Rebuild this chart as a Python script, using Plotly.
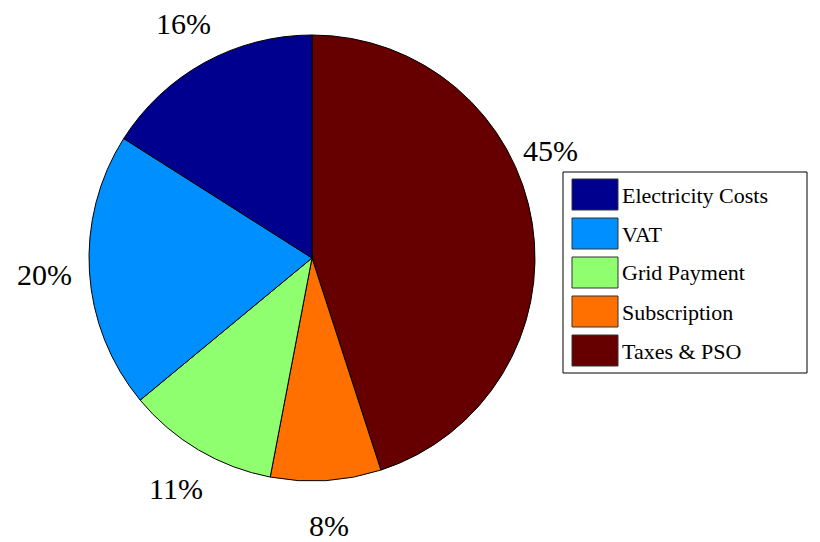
import math
import plotly.graph_objects as go

# Data
labels = ["Electricity Costs", "VAT", "Grid Payment", "Subscription", "Taxes & PSO"]
shares = [16, 20, 11, 8, 45]
colors = ["#00008F", "#008FFF", "#8FFF70", "#FF7000", "#660000"]

W, H = 820, 542
OFF = 8  # page body margin in the browser
serif = "Liberation Serif"

# pie geometry in page pixels
CX, CY, R = 312, 258, 223


def px(x):
    return (x - OFF) / W


def py(y):
    return 1 - (y - OFF) / H


fig = go.Figure()

# MATLAB pie runs counterclockwise from 12 o'clock; feed plotly the reverse order clockwise
fig.add_trace(go.Pie(
    labels=labels[::-1], values=shares[::-1], sort=False,
    direction="clockwise", rotation=0,
    marker=dict(colors=colors[::-1], line=dict(color="black", width=1)),
    textinfo="none",
    domain=dict(x=[px(CX - R), px(CX + R)], y=[py(CY + R), py(CY - R)]),
    showlegend=False, hoverinfo="label+percent"
))

# percentage labels, MATLAB style: centred at 1.2 r on each slice's mid-angle
moved = {"Taxes & PSO": (550, 150)}  # label dragged by hand in the original
annotations = []
total = sum(shares)
acc = 0
for lab, v in zip(labels, shares):
    mid = math.pi / 2 + 2 * math.pi * (acc + v / 2) / total
    acc += v
    x, y = CX + 1.2 * R * math.cos(mid), CY - 1.2 * R * math.sin(mid)
    if lab in moved:
        x, y = moved[lab]
    annotations.append(dict(xref="paper", yref="paper", x=px(x), y=py(y),
                            text=f"{round(100 * v / total)}%", showarrow=False,
                            xanchor="center", yanchor="middle",
                            font=dict(family=serif, size=30, color="black")))

# MATLAB-style legend box
box_x0, box_x1, box_y0 = 563, 807, 172
step = 39
shapes = [dict(type="rect", xref="paper", yref="paper",
               x0=px(box_x0), x1=px(box_x1),
               y0=py(box_y0 + step * len(labels) + 6), y1=py(box_y0),
               line=dict(color="black", width=1), fillcolor="white")]
for i, (lab, col) in enumerate(zip(labels, colors)):
    top = box_y0 + 7 + i * step
    shapes.append(dict(type="rect", xref="paper", yref="paper",
                       x0=px(572), x1=px(618), y0=py(top + 31), y1=py(top),
                       line=dict(color="#333333", width=1), fillcolor=col))
    annotations.append(dict(xref="paper", yref="paper", x=px(620), y=py(top + 16),
                            text=lab, showarrow=False, xanchor="left", yanchor="middle",
                            font=dict(family=serif, size=22, color="black")))

fig.update_layout(
    width=W, height=H,
    margin=dict(l=0, r=0, t=0, b=0),
    paper_bgcolor="white", plot_bgcolor="white",
    shapes=shapes, annotations=annotations
)

fig.write_html("out.html")
